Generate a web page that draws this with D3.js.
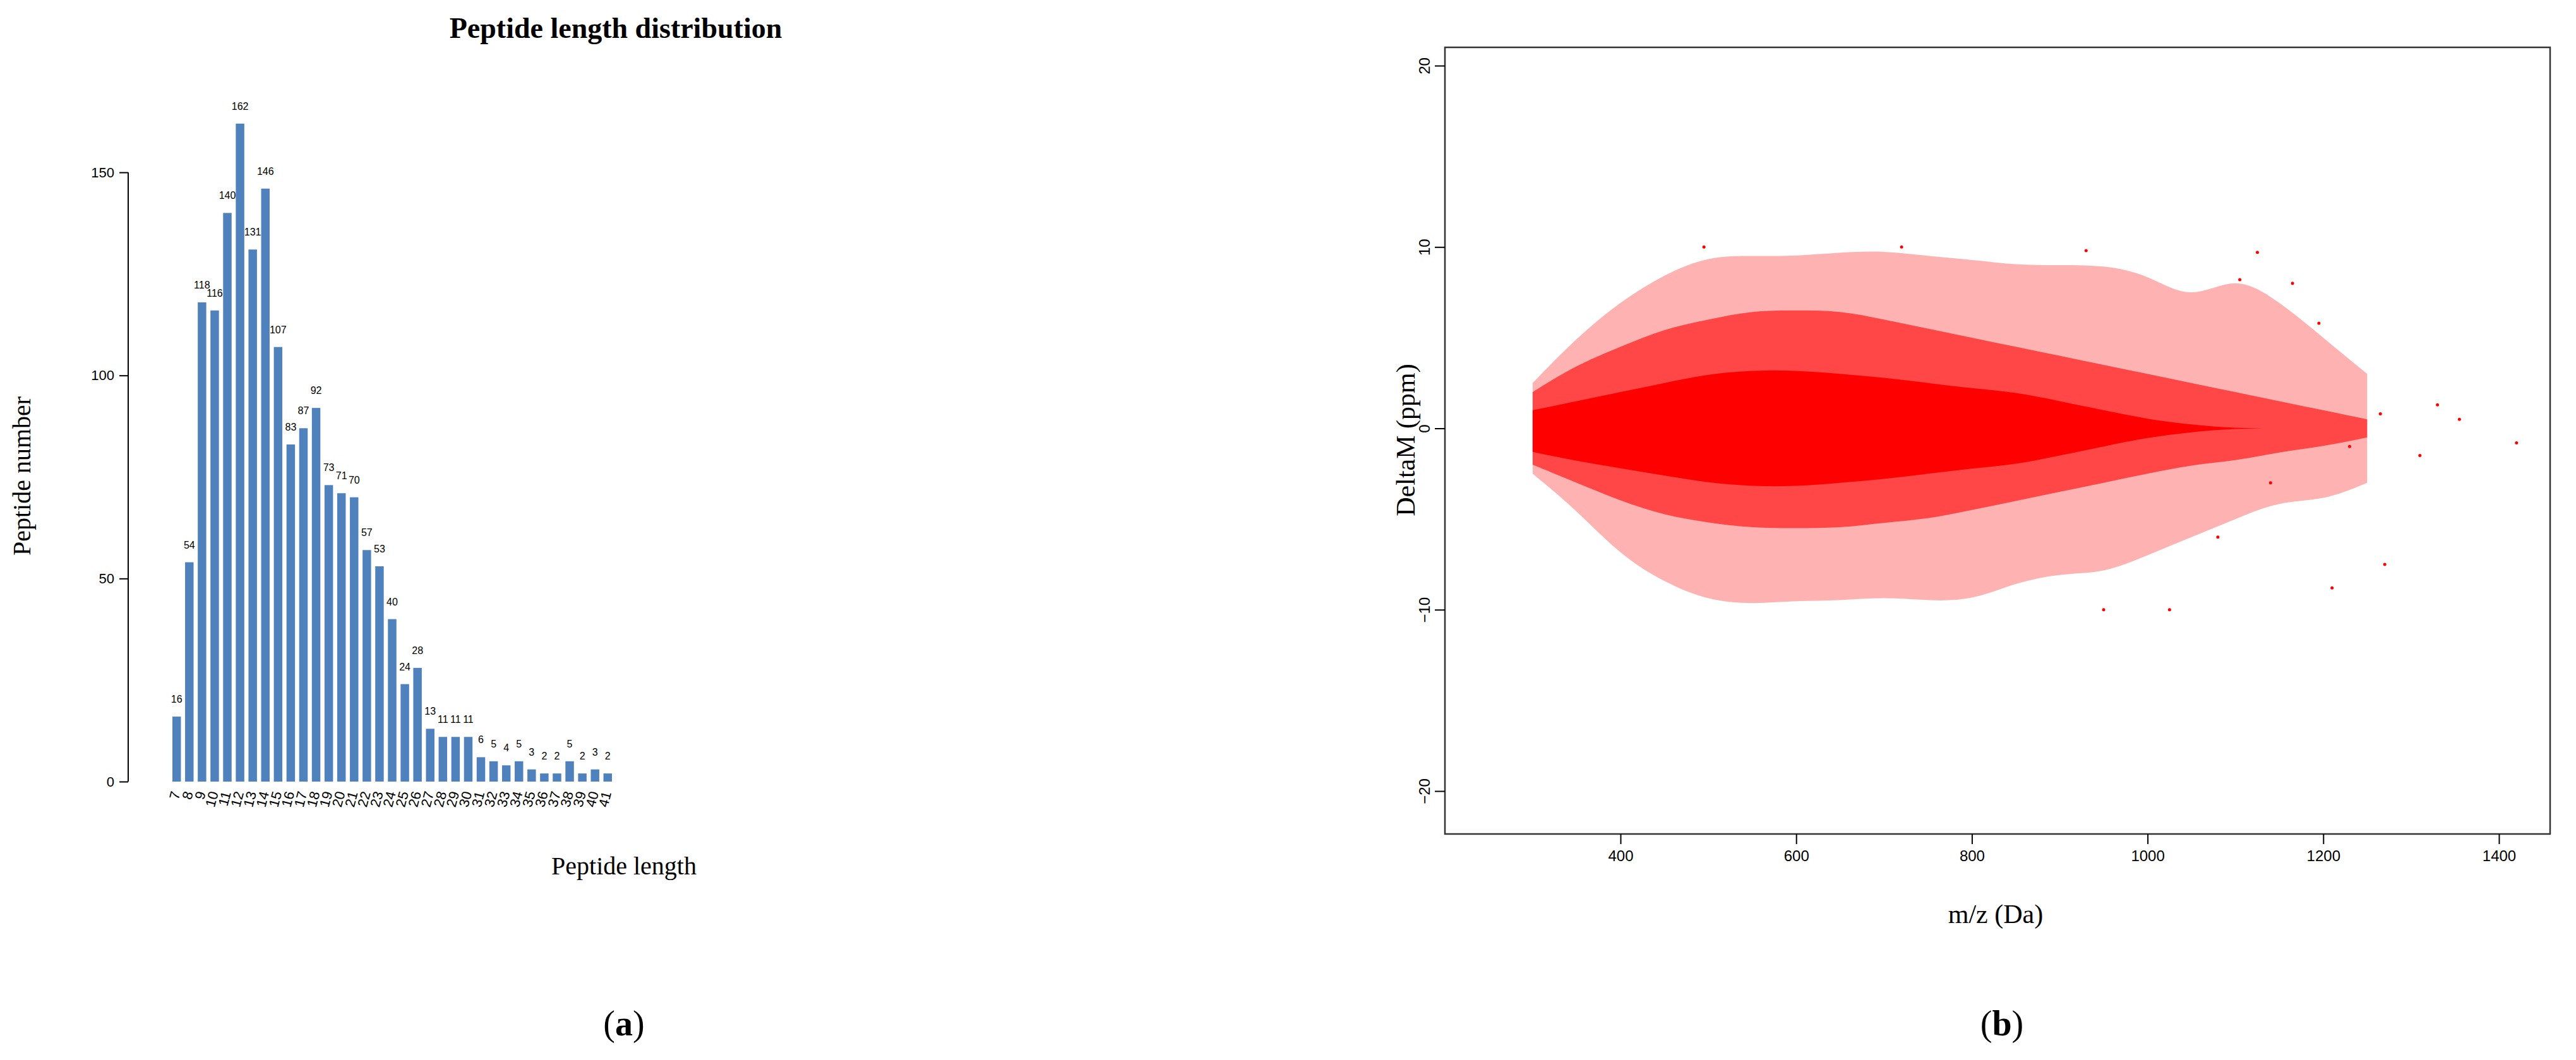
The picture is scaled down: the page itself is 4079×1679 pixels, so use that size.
<!DOCTYPE html><html><head><meta charset="utf-8"><script src="https://cdn.jsdelivr.net/npm/d3@7"></script>
<style>body{margin:0;background:#fff}</style></head><body><svg id="c" width="4079" height="1679"></svg>
<script>
const lengths=[7,8,9,10,11,12,13,14,15,16,17,18,19,20,21,22,23,24,25,26,27,28,29,30,31,32,33,34,35,36,37,38,39,40,41];
const counts=[16,54,118,116,140,162,131,146,107,83,87,92,73,71,70,57,53,40,24,28,13,11,11,11,6,5,4,5,3,2,2,5,2,3,2];
const yTicksA=[0,50,100,150];
// scatter envelope (ppm extents per m/z bin)
const mzBins=[300,350,400,450,500,550,600,650,700,750,800,850,900,950,1000,1050,1100,1150,1200,1250];
const outerUp=[2.5,5,7,8.5,9.5,9.5,9.5,9.7,9.8,9.5,9.3,9,9,9,8.5,7,8.5,7,5,3];
const outerLo=[-2.5,-4.5,-7,-8.5,-9.5,-9.7,-9.5,-9.5,-9.3,-9.5,-9.5,-8.5,-8,-8,-7,-6,-5,-4,-4,-3];
const midUp=[2,3.5,4.5,5.5,6,6.5,6.5,6.5,6,5.5,5,4.5,4,3.5,3,2.5,2,1.5,1,0.5];
const midLo=[-2,-3,-4,-4.8,-5.2,-5.5,-5.5,-5.5,-5.2,-5,-4.5,-4,-3.5,-3,-2.5,-2,-1.8,-1.3,-1,-0.5];
const coreUp=[1,1.5,2,2.5,3,3.2,3.2,3,2.8,2.5,2.2,2,1.5,1,0.5,0.2,0,0,0,0];
const coreLo=[-1.3,-1.8,-2.2,-2.6,-3,-3.2,-3.2,-3,-2.8,-2.5,-2.2,-2,-1.5,-1,-0.5,-0.2,0,0,0,0];
const outMz=[1330,1355,1420,1270,1210,1310,1025,950,495,720,930,1125,1165,1265,1230,1195,1105,1080,1140];
const outPpm=[1.3,0.5,-0.8,-7.5,-8.8,-1.5,-10,-10,10,10,9.8,9.7,8,0.8,-1,5.8,8.2,-6,-3];
const yTicksB=[-20,-10,0,10,20];
const xTicksB=[400,600,800,1000,1200,1400];

const svg=d3.select("#c");
const serif="'Liberation Serif','DejaVu Serif',serif", sans="'Liberation Sans',Arial,sans-serif";
// ---- panel a
const xA=d3.scaleBand().domain(lengths).range([273,969]).paddingInner(0.33).paddingOuter(0);
const yA=d3.scaleLinear().domain([0,150]).range([1238,273]);
const gA=svg.append("g");
gA.selectAll("rect").data(counts).join("rect").attr("x",(d,i)=>xA(lengths[i])).attr("width",xA.bandwidth())
 .attr("y",d=>yA(d)).attr("height",d=>yA(0)-yA(d)).attr("fill","#4f81bd");
gA.selectAll("text.v").data(counts).join("text").attr("class","v").attr("x",(d,i)=>xA(lengths[i])+xA.bandwidth()/2)
 .attr("y",d=>yA(d)-22).attr("text-anchor","middle").attr("font-family",sans).attr("font-size",16).text(d=>d);
const axA=gA.append("g").attr("transform","translate(203,0)").call(d3.axisLeft(yA).tickValues(yTicksA).tickSize(14).tickPadding(8));
axA.select(".domain").remove();
axA.append("line").attr("y1",yA(0)).attr("y2",yA(150)).attr("stroke","#000").attr("stroke-width",2);
axA.selectAll("text").attr("font-family",sans).attr("font-size",22);
axA.selectAll(".tick line").attr("stroke-width",2);
gA.selectAll("text.xl").data(lengths).join("text").attr("class","xl")
 .attr("transform",d=>`translate(${xA(d)+xA.bandwidth()/2+6},1256) rotate(-75)`).attr("text-anchor","end")
 .attr("font-family",sans).attr("font-size",22).text(d=>d);
gA.append("text").attr("x",975).attr("y",60).attr("text-anchor","middle").attr("font-family",serif).attr("font-weight","bold").attr("font-size",46).text("Peptide length distribution");
gA.append("text").attr("x",988).attr("y",1385).attr("text-anchor","middle").attr("font-family",serif).attr("font-size",40).text("Peptide length");
gA.append("text").attr("transform","translate(48,754) rotate(-90)").attr("text-anchor","middle").attr("font-family",serif).attr("font-size",40).text("Peptide number");
gA.append("text").attr("x",988).attr("y",1640).attr("text-anchor","middle").attr("font-family",serif).attr("font-size",56).html("(<tspan font-weight='bold'>a</tspan>)");
// ---- panel b
const xB=d3.scaleLinear().domain([400,1400]).range([2566,3957]);
const yB=d3.scaleLinear().domain([-20,20]).range([1253,104]);
const gB=svg.append("g");
const band=(up,lo)=>d3.area().x(d=>xB(d)).y0((d,i)=>yB(lo[i])).y1((d,i)=>yB(up[i])).curve(d3.curveBasis)(mzBins);
gB.append("path").attr("d",band(outerUp,outerLo)).attr("fill","#ff0000").attr("opacity",0.3);
gB.append("path").attr("d",band(midUp,midLo)).attr("fill","#ff0000").attr("opacity",0.6);
gB.append("path").attr("d",band(coreUp,coreLo)).attr("fill","#ff0000");
gB.selectAll("circle").data(outMz).join("circle").attr("cx",d=>xB(d)).attr("cy",(d,i)=>yB(outPpm[i])).attr("r",2.5).attr("fill","#ff0000");
gB.append("rect").attr("x",2288).attr("y",75).attr("width",1750).attr("height",1246).attr("fill","none").attr("stroke","#333").attr("stroke-width",2.5);
const axY=gB.append("g").attr("transform","translate(2288,0)").call(d3.axisLeft(yB).tickValues(yTicksB).tickSize(16).tickFormat(d=>d<0?"\u2212"+(-d):d));
axY.select(".domain").remove();
axY.selectAll("text").attr("font-family",sans).attr("font-size",24).attr("text-anchor","middle")
 .attr("transform","rotate(-90)").attr("x",0).attr("y",-24).attr("dy","0");
axY.selectAll(".tick line").attr("stroke-width",2);
const axX=gB.append("g").attr("transform","translate(0,1321)").call(d3.axisBottom(xB).tickValues(xTicksB).tickSize(16).tickPadding(10).tickFormat(d3.format("d")));
axX.select(".domain").remove();
axX.selectAll("text").attr("font-family",sans).attr("font-size",24);
axX.selectAll(".tick line").attr("stroke-width",2);
gB.append("text").attr("x",3160).attr("y",1462).attr("text-anchor","middle").attr("font-family",serif).attr("font-size",42).text("m/z (Da)");
gB.append("text").attr("transform","translate(2240,697) rotate(-90)").attr("text-anchor","middle").attr("font-family",serif).attr("font-size",42).text("DeltaM (ppm)");
gB.append("text").attr("x",3170).attr("y",1640).attr("text-anchor","middle").attr("font-family",serif).attr("font-size",56).html("(<tspan font-weight='bold'>b</tspan>)");
</script></body></html>
